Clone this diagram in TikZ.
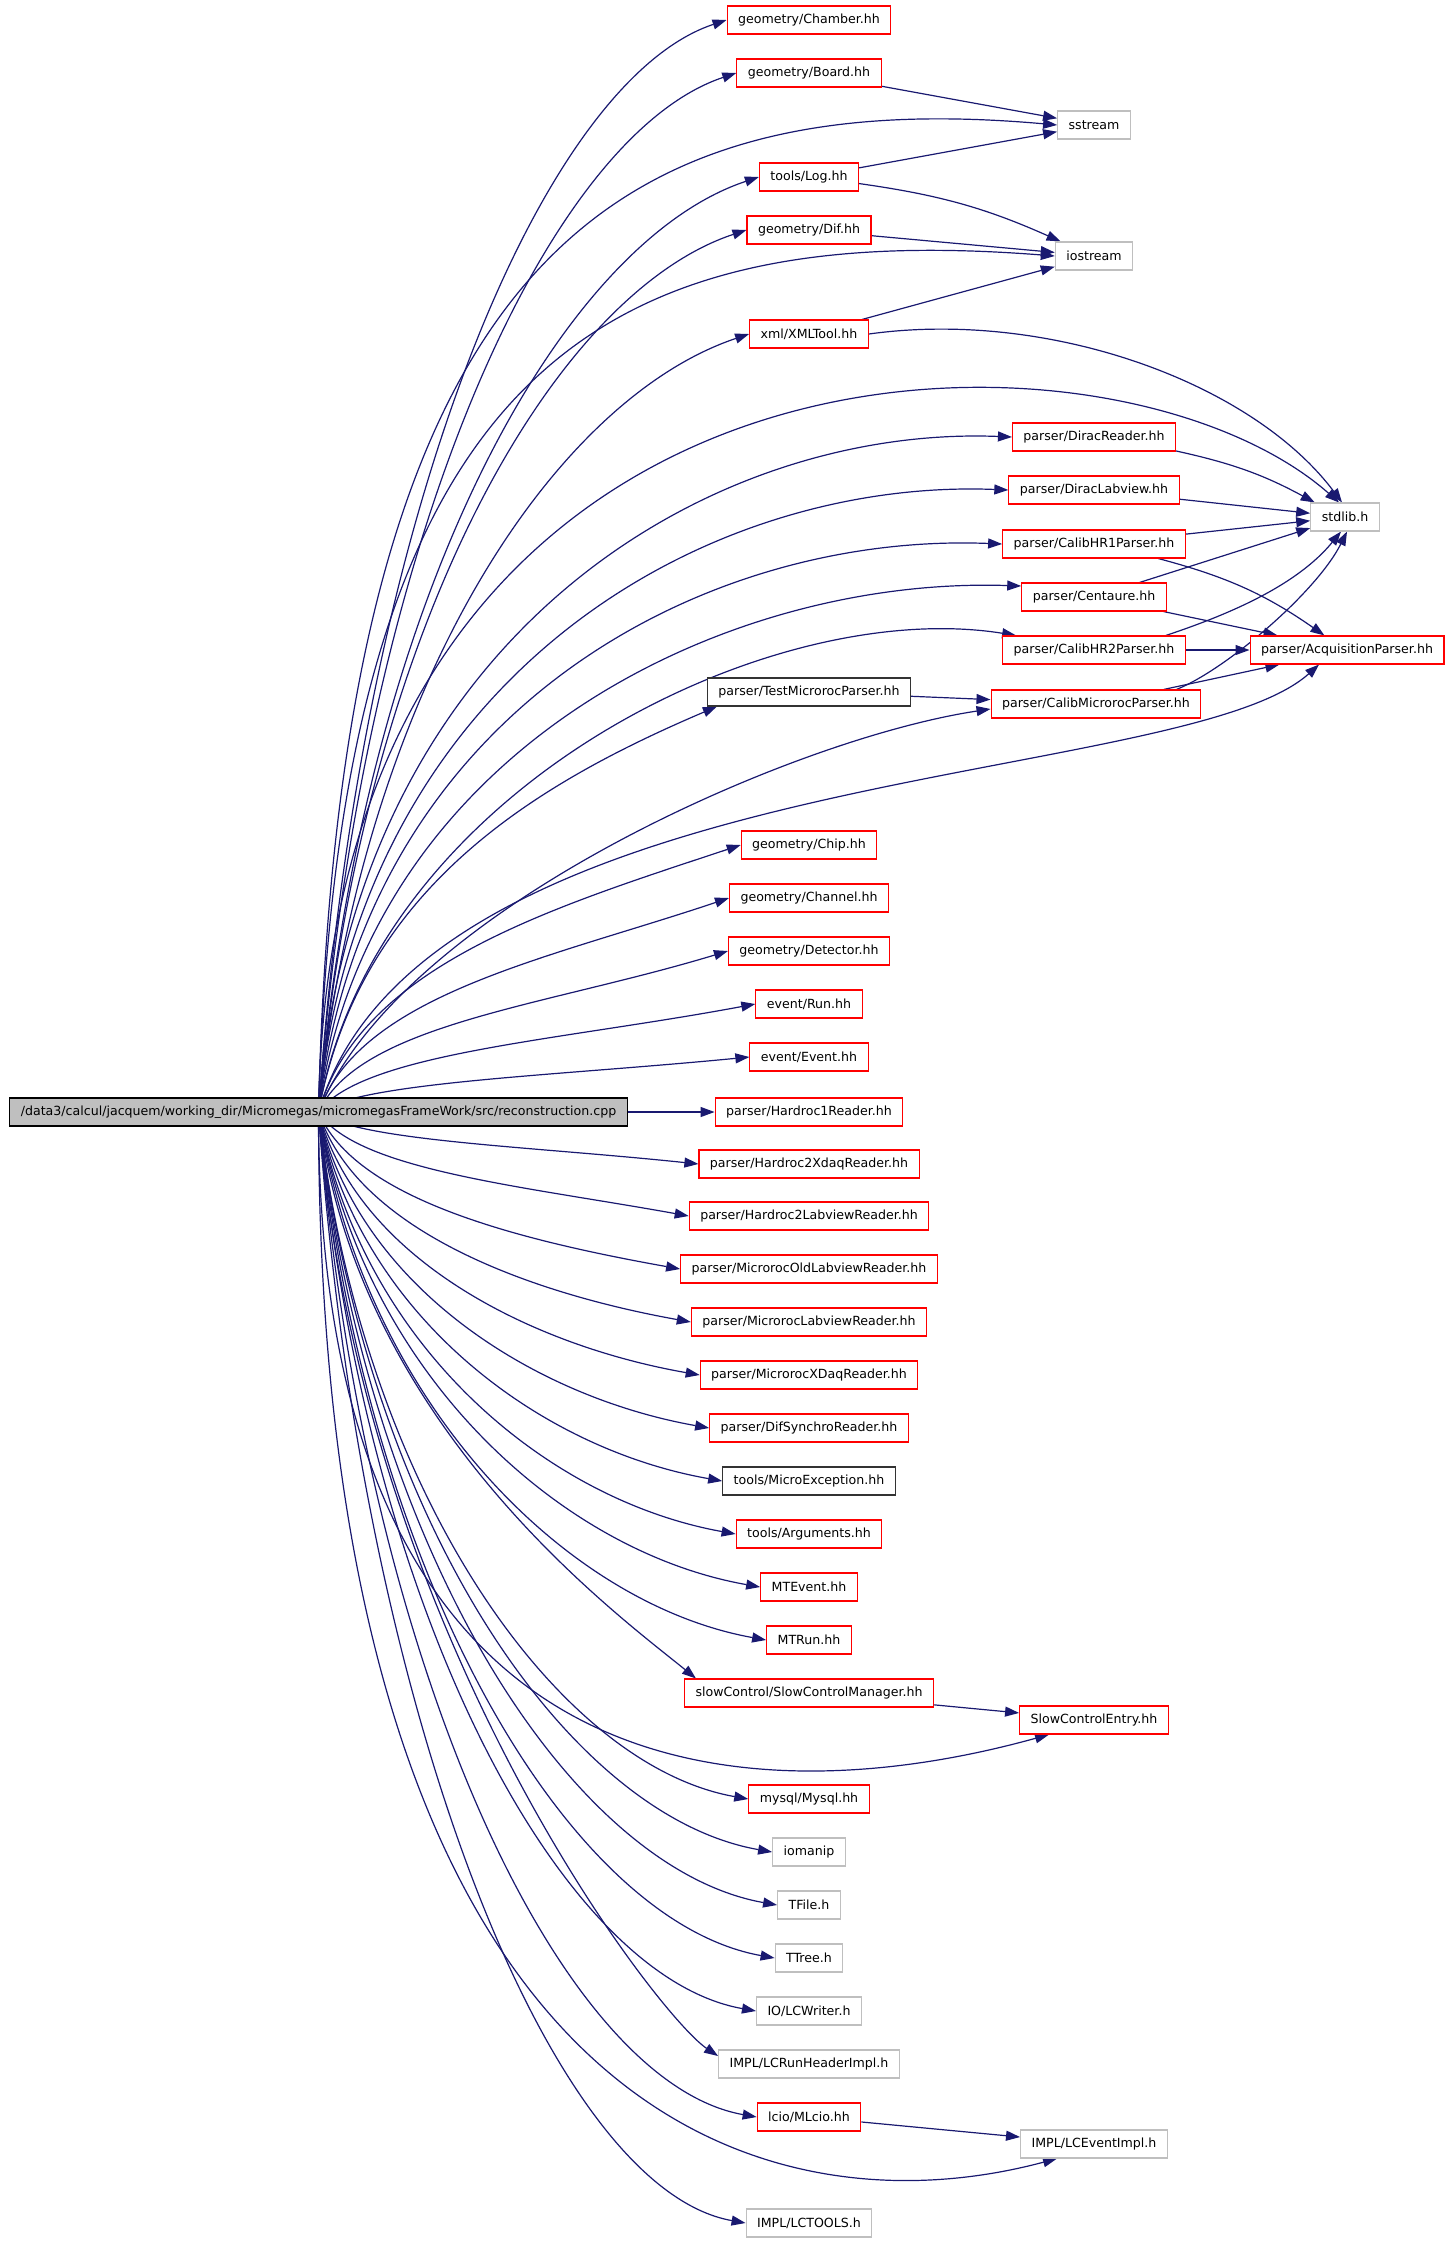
\documentclass[tikz,border=0pt]{standalone}
\usepackage{fontspec}
\setmainfont{DejaVu Sans}
\usetikzlibrary{arrows.meta,backgrounds}
\definecolor{edgeblue}{HTML}{191970}
\definecolor{boxgray}{HTML}{BFBFBF}

\begin{document}
\begin{tikzpicture}[x=1pt,y=-1pt,
	box/.style={draw,rectangle,fill=white,line width=1.1pt,minimum height=28pt,inner xsep=11pt,inner ysep=0pt,font=\fontsize{12.6}{15}\selectfont},
	hdr/.style={box,draw=red},
	sys/.style={box,draw=boxgray},
	plain/.style={box,draw=black!80},
	dep/.style={draw=edgeblue,line width=1.2pt,-{Triangle[length=14pt,width=10pt]}}]
	\useasboundingbox (0,0) rectangle (1451,2248);
	\node[box,fill=boxgray,draw=black] (main) at (318.5,1112) {/data3/calcul/jacquem/working\_dir/Micromegas/micromegasFrameWork/src/reconstruction.cpp};
	\node[hdr] (chamber) at (809,20) {geometry/Chamber.hh};
	\node[hdr] (board) at (809,73) {geometry/Board.hh};
	\node[sys] (sstr) at (1094,125) {sstream};
	\node[hdr] (log) at (809,177) {tools/Log.hh};
	\node[hdr] (dif) at (809,230) {geometry/Dif.hh};
	\node[sys] (iostr) at (1094,256) {iostream};
	\node[hdr] (xml) at (809,334) {xml/XMLTool.hh};
	\node[hdr] (dreader) at (1094,437) {parser/DiracReader.hh};
	\node[hdr] (dlab) at (1094,490) {parser/DiracLabview.hh};
	\node[sys] (stdl) at (1345,517) {stdlib.h};
	\node[hdr] (hrone) at (1094,544) {parser/CalibHR1Parser.hh};
	\node[hdr] (cent) at (1094,597) {parser/Centaure.hh};
	\node[hdr] (hrtwo) at (1094,650) {parser/CalibHR2Parser.hh};
	\node[hdr] (acq) at (1347,650) {parser/AcquisitionParser.hh};
	\node[plain] (test) at (809,692) {parser/TestMicrorocParser.hh};
	\node[hdr] (calmr) at (1096,704) {parser/CalibMicrorocParser.hh};
	\node[hdr] (chip) at (809,845) {geometry/Chip.hh};
	\node[hdr] (channel) at (809,898) {geometry/Channel.hh};
	\node[hdr] (detector) at (809,951) {geometry/Detector.hh};
	\node[hdr] (run) at (809,1004) {event/Run.hh};
	\node[hdr] (event) at (809,1057) {event/Event.hh};
	\node[hdr] (hroner) at (809,1112) {parser/Hardroc1Reader.hh};
	\node[hdr] (hrtwox) at (809,1164) {parser/Hardroc2XdaqReader.hh};
	\node[hdr] (hrtwol) at (809,1216) {parser/Hardroc2LabviewReader.hh};
	\node[hdr] (mrold) at (809,1269) {parser/MicrorocOldLabviewReader.hh};
	\node[hdr] (mrlab) at (809,1322) {parser/MicrorocLabviewReader.hh};
	\node[hdr] (mrxdaq) at (809,1375) {parser/MicrorocXDaqReader.hh};
	\node[hdr] (difsync) at (809,1428) {parser/DifSynchroReader.hh};
	\node[plain] (except) at (809,1481) {tools/MicroException.hh};
	\node[hdr] (args) at (809,1534) {tools/Arguments.hh};
	\node[hdr] (mtevent) at (809,1587) {MTEvent.hh};
	\node[hdr] (mtrun) at (809,1640) {MTRun.hh};
	\node[hdr] (scman) at (809,1693) {slowControl/SlowControlManager.hh};
	\node[hdr] (scentry) at (1094,1720) {SlowControlEntry.hh};
	\node[hdr] (mysql) at (809,1799) {mysql/Mysql.hh};
	\node[sys] (iomanip) at (809,1852) {iomanip};
	\node[sys] (tfile) at (809,1905) {TFile.h};
	\node[sys] (ttree) at (809,1958) {TTree.h};
	\node[sys] (lcwriter) at (809,2011) {IO/LCWriter.h};
	\node[sys] (lcrun) at (809,2064) {IMPL/LCRunHeaderImpl.h};
	\node[hdr] (mlcio) at (809,2117) {lcio/MLcio.hh};
	\node[sys] (lcevent) at (1094,2144) {IMPL/LCEventImpl.h};
	\node[sys] (lctools) at (809,2223) {IMPL/LCTOOLS.h};
	\begin{scope}[on background layer]
		\draw[dep] (main.center) .. controls +(41,-600) and +(-184,61) .. (chamber.west);
		\draw[dep] (main.center) .. controls +(42,-571) and +(-189,63) .. (board.west);
		\draw[dep] (main.center) .. controls +(20,-850) and +(-450,-40) .. (sstr.west);
		\draw[dep] (main.center) .. controls +(44,-514) and +(-199,66) .. (log.west);
		\draw[dep] (main.center) .. controls +(43,-485) and +(-193,64) .. (dif.west);
		\draw[dep] (main.center) .. controls +(20,-750) and +(-450,-35) .. (iostr.west);
		\draw[dep] (main.center) .. controls +(43,-427) and +(-194,65) .. (xml.west);
		\draw[dep] (main.center) .. controls +(12,-811) and +(-230,-203) .. ([xshift=-6pt]stdl.north);
		\draw[dep] (main.center) .. controls +(35,-480) and +(-300,-12) .. (dreader.west);
		\draw[dep] (main.center) .. controls +(40,-440) and +(-300,-12) .. (dlab.west);
		\draw[dep] (main.center) .. controls +(45,-400) and +(-300,-12) .. (hrone.west);
		\draw[dep] (main.center) .. controls +(50,-360) and +(-300,-10) .. ([yshift=11pt]cent.west);
		\draw[dep] (main.center) .. controls +(55,-320) and +(-250,-40) .. ([xshift=14pt]hrtwo.north west);
		\draw[dep] (main.center) .. controls +(41,-223) and +(-183,78) .. ([xshift=10pt]test.south west);
		\draw[dep] (main.center) .. controls +(80,-200) and +(-200,30) .. ([yshift=-5pt]calmr.west);
		\draw[dep] (main.center) .. controls +(102,-351) and +(-139,125) .. ([xshift=-28pt]acq.south);
		\draw[dep] (main.center) .. controls +(42,-146) and +(-190,63) .. (chip.west);
		\draw[dep] (main.center) .. controls +(41,-117) and +(-185,62) .. (channel.west);
		\draw[dep] (main.center) .. controls +(41,-88) and +(-185,56) .. (detector.west);
		\draw[dep] (main.center) .. controls +(44,-59) and +(-198,37) .. (run.west);
		\draw[dep] (main.center) .. controls +(43,-30) and +(-195,19) .. (event.west);
		\draw[dep] (main) -- (hroner);
		\draw[dep] (main.center) .. controls +(38,29) and +(-171,-18) .. (hrtwox.west);
		\draw[dep] (main.center) .. controls +(37,58) and +(-166,-30) .. (hrtwol.west);
		\draw[dep] (main.center) .. controls +(36,87) and +(-162,-29) .. (mrold.west);
		\draw[dep] (main.center) .. controls +(37,116) and +(-167,-30) .. (mrlab.west);
		\draw[dep] (main.center) .. controls +(38,145) and +(-171,-30) .. (mrxdaq.west);
		\draw[dep] (main.center) .. controls +(39,174) and +(-175,-31) .. (difsync.west);
		\draw[dep] (main.center) .. controls +(41,204) and +(-182,-32) .. (except.west);
		\draw[dep] (main.center) .. controls +(42,233) and +(-189,-34) .. (args.west);
		\draw[dep] (main.center) .. controls +(44,262) and +(-199,-35) .. (mtevent.west);
		\draw[dep] (main.center) .. controls +(45,291) and +(-200,-36) .. (mtrun.west);
		\draw[dep] (main.center) .. controls +(38,312) and +(-80,-65) .. ([xshift=12pt]scman.north west);
		\draw[dep] (main.center) .. controls +(0,700) and +(-289,80) .. ([xshift=-45pt]scentry.south);
		\draw[dep] (main.center) .. controls +(43,378) and +(-192,-34) .. (mysql.west);
		\draw[dep] (main.center) .. controls +(46,408) and +(-205,-36) .. (iomanip.west);
		\draw[dep] (main.center) .. controls +(46,437) and +(-207,-37) .. (tfile.west);
		\draw[dep] (main.center) .. controls +(46,466) and +(-206,-37) .. (ttree.west);
		\draw[dep] (main.center) .. controls +(44,495) and +(-197,-35) .. (lcwriter.west);
		\draw[dep] (main.center) .. controls +(40,520) and +(-60,-40) .. ([yshift=8pt]lcrun.west);
		\draw[dep] (main.center) .. controls +(44,553) and +(-197,-35) .. (mlcio.west);
		\draw[dep] (main.center) .. controls +(0,989) and +(-307,82) .. ([xshift=-37pt]lcevent.south);
		\draw[dep] (main.center) .. controls +(43,612) and +(-192,-34) .. (lctools.west);
		\draw[dep] (board) -- (sstr);
		\draw[dep] (log) -- (sstr);
		\draw[dep] (log) to[bend left=8] (iostr);
		\draw[dep] (dif) -- (iostr);
		\draw[dep] (xml) -- (iostr);
		\draw[dep] (xml.east) .. controls +(180,-25) and +(-90,-120) .. ([xshift=-3pt]stdl.north);
		\draw[dep] (dreader) to[bend left=8] (stdl);
		\draw[dep] (dlab) -- (stdl);
		\draw[dep] (hrone) -- (stdl);
		\draw[dep] (hrone) to[bend left=10] (acq);
		\draw[dep] (cent) -- (stdl);
		\draw[dep] (cent) -- (acq);
		\draw[dep] ([xshift=-20pt]hrtwo.north east) .. controls +(60,-20) and +(-45,55) .. ([xshift=-4pt]stdl.south);
		\draw[dep] (hrtwo) -- (acq);
		\draw[dep] (test) -- (calmr);
		\draw[dep] ([xshift=-25pt]calmr.north east) .. controls +(50,-20) and +(-30,60) .. ([xshift=2pt]stdl.south);
		\draw[dep] (calmr) -- (acq);
		\draw[dep] (scman) -- (scentry);
		\draw[dep] (mlcio) -- (lcevent);
	\end{scope}
\end{tikzpicture}
\end{document}
